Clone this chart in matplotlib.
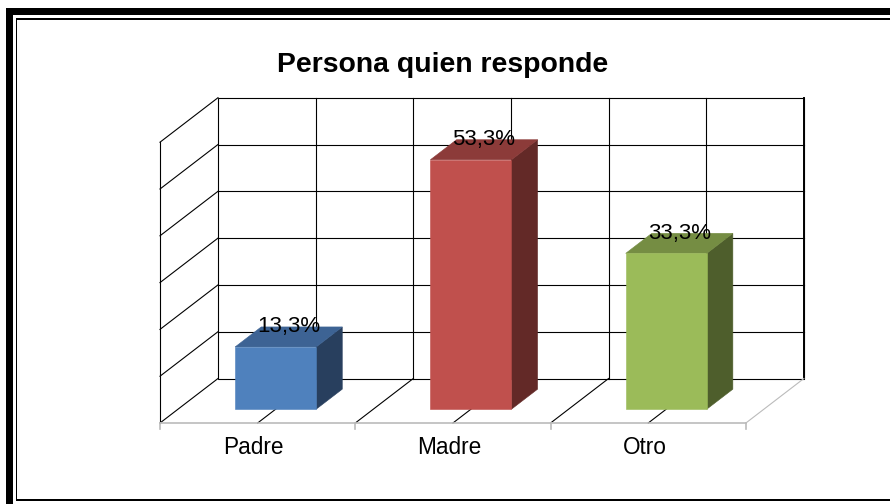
import matplotlib
matplotlib.use('Agg')
import matplotlib.pyplot as plt
from matplotlib.patches import Polygon, Rectangle

plt.rcParams['font.family'] = ['Liberation Sans', 'DejaVu Sans']

categories = ['Padre', 'Madre', 'Otro']
values = [13.3, 53.3, 33.3]
labels = ['13,3%', '53,3%', '33,3%']
front_colors = ['#4F81BD', '#C0504D', '#9BBB59']
top_colors = ['#3D6394', '#8C3B39', '#758D43']
side_colors = ['#283F5E', '#632927', '#4E5E2C']
title = 'Persona quien responde'
vmax = 60
vstep = 10

W, H = 890, 504
fig = plt.figure(figsize=(W / 100, H / 100), dpi=100)

# pixel scale of the front plane
px_cat = 195.3      # pixels per category
px_val = 4.68       # pixels per percent
x0_px, y0_px = 160, 423
depth_dx = 58 / px_cat   # full depth shift in category units
depth_dy = 44.5 / px_val  # full depth shift in value units

ax = fig.add_axes([0, 0, 1, 1])
ax.set_xlim(-x0_px / px_cat, (W - x0_px) / px_cat)
ax.set_ylim(-(H - y0_px) / px_val, y0_px / px_val)
ax.axis('off')

n = len(categories)


def P(x, v, t):
    return (x + depth_dx * t, v + depth_dy * t)


lw = 0.8
# back wall
bx0, by0 = P(0, 0, 1)
ax.add_patch(Rectangle((bx0, by0), n, vmax, fill=False, ec='black', lw=lw, zorder=1))
ax.plot([bx0 + n, bx0 + n], [by0, by0 + vmax], color='black', lw=1.4, zorder=1)
for v in range(vstep, vmax, vstep):
    ax.plot([bx0, bx0 + n], [by0 + v, by0 + v], color='black', lw=lw, zorder=1)
for k in range(1, 2 * n):
    ax.plot([bx0 + k * 0.5] * 2, [by0, by0 + vmax], color='black', lw=lw, zorder=1)

# side wall
ax.plot([0, 0], [0, vmax], color='black', lw=lw, zorder=1)
for v in range(0, vmax + 1, vstep):
    a, b = P(0, v, 0), P(0, v, 1)
    ax.plot([a[0], b[0]], [a[1], b[1]], color='black', lw=lw, zorder=1)

# floor
for k in range(1, 2 * n + 1):
    a, b = P(k * 0.5, 0, 0), P(k * 0.5, 0, 1)
    col = '#BBBBBB' if k == 2 * n else 'black'
    ax.plot([a[0], b[0]], [a[1], b[1]], color=col, lw=lw, zorder=1)
ax.plot([0, n], [0, 0], color='#BBBBBB', lw=1.2, zorder=2)
for k in range(n + 1):
    ax.plot([k, k], [0, -5.5 / px_val], color='#BBBBBB', lw=1.2, zorder=2)

# bars
t0, t1 = 0.31, 0.76
hw = 0.415 / 2
for i, v in enumerate(values):
    c = i + 0.5
    front = [P(c - hw, 0, t0), P(c + hw, 0, t0), P(c + hw, v, t0), P(c - hw, v, t0)]
    top = [P(c - hw, v, t0), P(c + hw, v, t0), P(c + hw, v, t1), P(c - hw, v, t1)]
    side = [P(c + hw, 0, t0), P(c + hw, 0, t1), P(c + hw, v, t1), P(c + hw, v, t0)]
    ax.add_patch(Polygon(side, closed=True, fc=side_colors[i], ec=side_colors[i], lw=0.4, zorder=3))
    ax.add_patch(Polygon(top, closed=True, fc=top_colors[i], ec=top_colors[i], lw=0.4, zorder=3))
    ax.add_patch(Polygon(front, closed=True, fc=front_colors[i], ec=front_colors[i], lw=0.4, zorder=3))
    lx = P(c, v, (t0 + t1) / 2)[0]
    ly = P(c, v, t1)[1]
    ax.text(lx, ly, labels[i], ha='center', va='center', fontsize=16, color='black', zorder=5)
    ax.text(c - 0.02, -25 / px_val, categories[i], ha='center', va='center', fontsize=16.3, color='black')

fig.text(443 / W, 1 - 71.7 / H, title, ha='center', va='baseline', fontsize=20.4, fontweight='bold')

# outer frame, drawn as filled bands in pixel units
fr = fig.add_axes([0, 0, 1, 1], facecolor='none')
fr.set_xlim(0, W)
fr.set_ylim(H, 0)
fr.axis('off')
bands = [
    (6, 8, 7, H),        # thick left
    (6, 8, W, 7),        # thick top
    (15.5, 18, 1.8, 483),  # thin left
    (15.5, 18, W, 1.8),    # thin top
    (15.5, 499, W, 2.2),   # thin bottom
]
for bx, by, bw, bh in bands:
    fr.add_patch(Rectangle((bx, by), bw, bh, fc='black', ec='none', lw=0))

fig.savefig('out.png', dpi=100)
